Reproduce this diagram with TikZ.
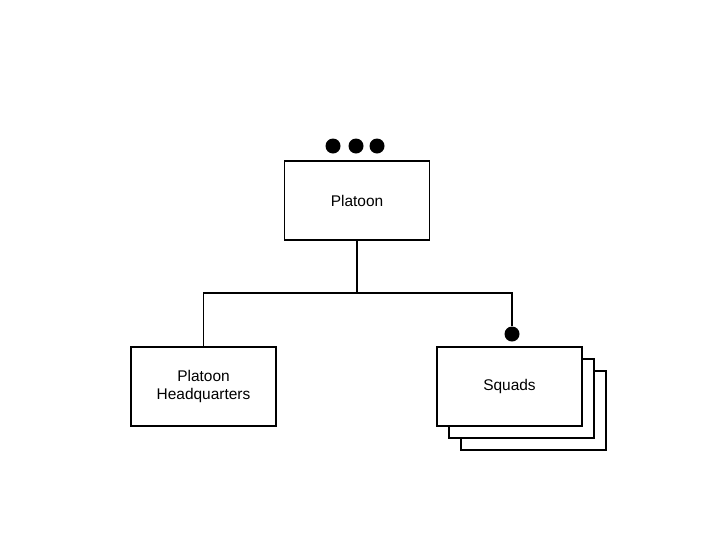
\documentclass[tikz,border=0pt]{standalone}
\usepackage{fontspec}
\setmainfont{Liberation Sans}
\begin{document}
\begin{tikzpicture}[x=0.025cm,y=-0.025cm,
  box/.style={draw,thick,fill=white,minimum width=145*0.025cm,minimum height=79*0.025cm,align=center,font=\fontsize{11}{13}\selectfont},
  dot/.style={circle,fill=black,inner sep=0pt,minimum size=15*0.025cm},
  line/.style={thick}]
\useasboundingbox (0,0) rectangle (720,540);
\node[box] (s3) at (533.5,410.5) {};
\node[box] (s2) at (521.5,398.5) {};
\node[box] (sq) at (509.5,386.5) {Squads};
\node[box] (pl) at (357,200.5) {Platoon};
\node[box] (hq) at (203.5,386.5) {Platoon\\Headquarters};
\node[dot] (d1) at (333,146) {};
\node[dot] (d2) at (356,146) {};
\node[dot] (d3) at (377,146) {};
\node[dot] (sd) at (512,334) {};
\coordinate (j) at (357,293);
\draw[line] (pl.south) -- (j) -| (hq.north);
\draw[line] (j) -| (sd.north);
\end{tikzpicture}
\end{document}
